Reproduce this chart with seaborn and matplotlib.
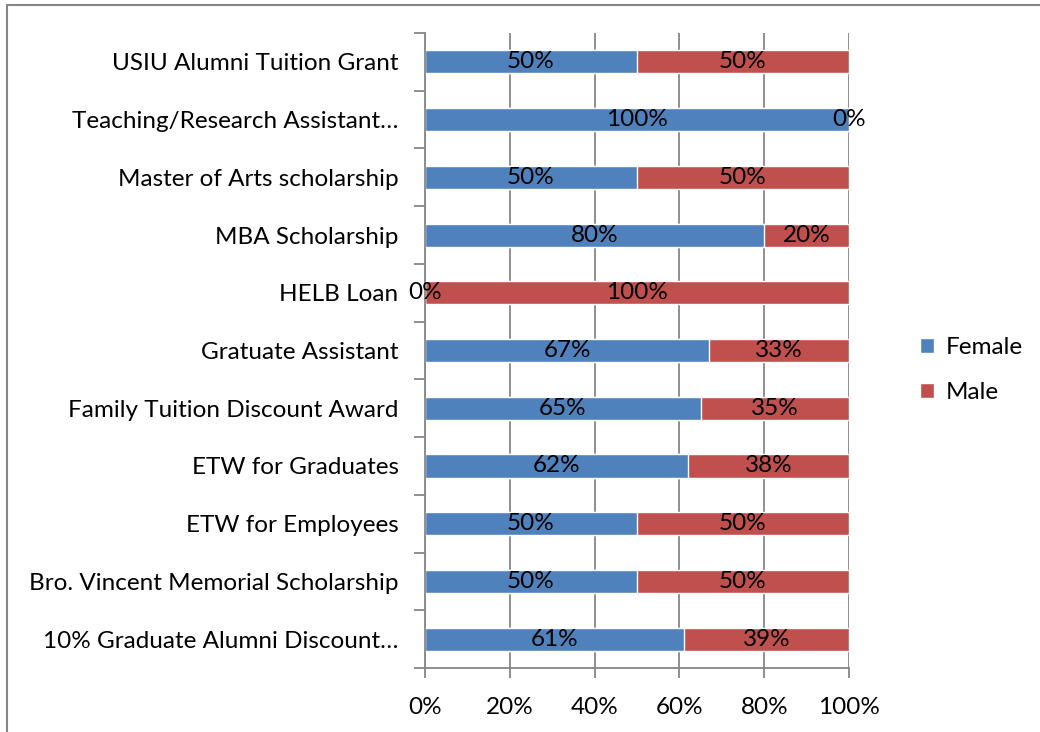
import numpy as np
import pandas as pd
import seaborn as sns
from matplotlib import pyplot as plt
from matplotlib.patches import Patch
from matplotlib.lines import Line2D

# Data (top to bottom)
categories = [
    "USIU Alumni Tuition Grant",
    "Teaching/Research Assistant\u2026",
    "Master of Arts scholarship",
    "MBA Scholarship",
    "HELB Loan",
    "Gratuate Assistant",
    "Family Tuition Discount Award",
    "ETW for Graduates",
    "ETW for Employees",
    "Bro. Vincent Memorial Scholarship",
    "10% Graduate Alumni Discount\u2026",
]
female = [50, 100, 50, 80, 0, 67, 65, 62, 50, 50, 61]
male = [50, 0, 50, 20, 100, 33, 35, 38, 50, 50, 39]
xticks = [0, 20, 40, 60, 80, 100]

blue = "#4F81BD"
red = "#C0504D"
grey = "#868686"
fs = 17.5

sns.set_style("white")
plt.rcParams["font.family"] = ["Lato", "DejaVu Sans"]
plt.rcParams["text.color"] = "black"
plt.rcParams["xtick.labelcolor"] = "black"
plt.rcParams["ytick.labelcolor"] = "black"

df = pd.DataFrame({"cat": categories, "female": female, "male": male})
df["total"] = df["female"] + df["male"]

fig = plt.figure(figsize=(10.4, 7.32), dpi=100)
ax = fig.add_axes([425 / 1040, 1 - 668 / 732, 424 / 1040, 635 / 732])

# stacked bars: total (male) underneath, female on top
sns.barplot(data=df, x="total", y="cat", color=red, width=0.4, orient="h",
            ax=ax, saturation=1, zorder=2)
sns.barplot(data=df, x="female", y="cat", color=blue, width=0.4, orient="h",
            ax=ax, saturation=1, zorder=3)

# data labels
for i, (f, m) in enumerate(zip(female, male)):
    ax.text(f / 2, i, f"{f}%", ha="center", va="center", fontsize=fs, color="black", zorder=5)
    ax.text(f + m / 2, i, f"{m}%", ha="center", va="center", fontsize=fs, color="black", zorder=5)

ax.set_xlim(0, 100)
ax.set_ylim(len(categories) - 0.5, -0.5)
ax.set_xticks(xticks)
ax.set_xticklabels([f"{t}%" for t in xticks], fontsize=fs)
ax.set_yticks(range(len(categories)))
ax.set_yticklabels(categories, fontsize=fs)
ax.set_yticks(np.arange(-0.5, len(categories), 1), minor=True)
ax.tick_params(axis="y", which="major", left=True, length=0, pad=19)
ax.tick_params(axis="y", which="minor", left=True, length=8, width=1.3, color=grey, direction="out")
ax.tick_params(axis="x", which="major", bottom=True, length=7, width=1.3, color=grey,
               direction="out", pad=14)
ax.set_xlabel("")
ax.set_ylabel("")

ax.grid(axis="x", color=grey, linewidth=1.3, zorder=1)
ax.grid(axis="y", visible=False)
ax.set_axisbelow(True)
for s in ["top", "right"]:
    ax.spines[s].set_visible(False)
for s in ["left", "bottom"]:
    ax.spines[s].set_color(grey)
    ax.spines[s].set_linewidth(1.3)
    ax.spines[s].set_zorder(4)

handles = [Patch(facecolor=blue, label="Female"), Patch(facecolor=red, label="Male")]
fig.legend(handles=handles, loc="center left", bbox_to_anchor=(898 / 1040, 1 - 370 / 732),
           frameon=False, fontsize=fs, handlelength=0.6, handleheight=0.6,
           handletextpad=0.45, labelspacing=1.0)

# outer chart border (top and left visible in the crop)
fig.add_artist(Line2D([7 / 1040, 7 / 1040], [0, 1 - 5 / 732], transform=fig.transFigure,
                      color=grey, linewidth=1.5))
fig.add_artist(Line2D([7 / 1040, 1], [1 - 5 / 732, 1 - 5 / 732], transform=fig.transFigure,
                      color=grey, linewidth=1.5))

fig.savefig("out.png", dpi=100)
